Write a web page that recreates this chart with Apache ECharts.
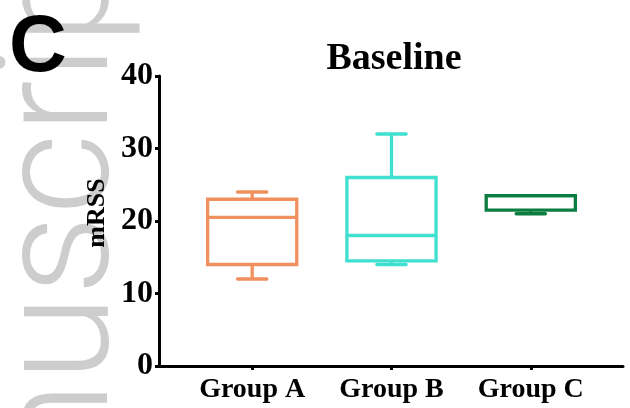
<!DOCTYPE html>
<html>
<head>
<meta charset="utf-8">
<script src="https://cdn.jsdelivr.net/npm/echarts@6/dist/echarts.min.js"></script>
<style>
  html, body { margin: 0; padding: 0; background: #fff; }
  #chart { width: 630px; height: 408px; }
</style>
</head>
<body>
<div id="chart"></div>
<script>
// Box-and-whisker summary per group (mRSS at baseline)
const groups  = ['Group A', 'Group B', 'Group C'];
const mins    = [12, 14, 21];
const q1s     = [14, 14.5, 21.5];
const medians = [20.5, 18, 23.5];
const q3s     = [23, 26, 23.5];
const maxs    = [24, 32, 23.5];
const colors  = ['#F0905E', '#40E0D0', '#0B7D40'];
const yMin = 0, yMax = 40, yStep = 10;

const serif = '"Liberation Serif", "Times New Roman", serif';

// x positions 1..n on a value axis so the axis line can extend past the groups
const boxData = groups.map((g, i) => [i + 1, mins[i], q1s[i], medians[i], q3s[i], maxs[i]]);
const groupPos = groups.map((g, i) => i + 1);

function renderBox(params, api) {
  const i = params.dataIndex;
  const x = api.value(0);
  const unit = api.size([1, 0])[0];
  const halfBox = unit * 0.32;
  const halfCap = unit * 0.105;
  const pMin = api.coord([x, api.value(1)]);
  const pQ1 = api.coord([x, api.value(2)]);
  const pMed = api.coord([x, api.value(3)]);
  const pQ3 = api.coord([x, api.value(4)]);
  const pMax = api.coord([x, api.value(5)]);
  const cx = pQ1[0];
  const stroke = { stroke: colors[i], lineWidth: 3.3, fill: null };
  const capStyle = { stroke: colors[i], lineWidth: 3.3, lineCap: 'round' };
  const children = [];
  if (pMax[1] < pQ3[1] - 0.5) {
    children.push({ type: 'line', shape: { x1: cx, y1: pMax[1], x2: cx, y2: pQ3[1] }, style: stroke });
    children.push({ type: 'line', shape: { x1: cx - halfCap, y1: pMax[1], x2: cx + halfCap, y2: pMax[1] }, style: capStyle });
  }
  if (pMin[1] > pQ1[1] + 0.5) {
    children.push({ type: 'line', shape: { x1: cx, y1: pQ1[1], x2: cx, y2: pMin[1] }, style: stroke });
    children.push({ type: 'line', shape: { x1: cx - halfCap, y1: pMin[1], x2: cx + halfCap, y2: pMin[1] }, style: capStyle });
  }
  children.push({
    type: 'rect',
    shape: { x: cx - halfBox, y: pQ3[1], width: halfBox * 2, height: pQ1[1] - pQ3[1] },
    style: stroke
  });
  children.push({ type: 'line', shape: { x1: cx - halfBox, y1: pMed[1], x2: cx + halfBox, y2: pMed[1] }, style: stroke });
  return { type: 'group', children: children };
}

const chart = echarts.init(document.getElementById('chart'), null, { renderer: 'canvas' });

chart.setOption({
  animation: false,
  backgroundColor: '#ffffff',
  title: {
    text: 'Baseline',
    left: 389,
    textAlign: 'center',
    top: 35,
    textStyle: { fontFamily: serif, fontWeight: 'bold', fontSize: 38, color: '#000' }
  },
  grid: { left: 159, right: 7, top: 76, bottom: 42 },
  xAxis: {
    type: 'value',
    min: 0.331,
    max: 3.662,
    splitLine: { show: false },
    axisLine: { show: true, lineStyle: { color: '#000', width: 3 } },
    axisTick: { show: true, customValues: groupPos, length: 4, lineStyle: { color: '#000', width: 3 } },
    axisLabel: {
      show: true,
      customValues: groupPos,
      formatter: (v) => groups[Math.round(v) - 1] || '',
      margin: 10,
      fontFamily: serif, fontWeight: 'bold', fontSize: 28, color: '#000'
    }
  },
  yAxis: {
    type: 'value',
    min: yMin, max: yMax, interval: yStep,
    name: 'mRSS',
    nameLocation: 'middle',
    nameGap: 44,
    nameTextStyle: { fontFamily: serif, fontWeight: 'bold', fontSize: 26, color: '#000', padding: [0, 0, 0, 16] },
    splitLine: { show: false },
    axisLine: { show: true, lineStyle: { color: '#000', width: 3 } },
    axisTick: { show: true, length: 4, lineStyle: { color: '#000', width: 3 } },
    axisLabel: { margin: 6, fontFamily: serif, fontWeight: 'bold', fontSize: 32, color: '#000' }
  },
  graphic: [
    {
      type: 'text',
      z: -10,
      x: 67, y: 690,
      rotation: Math.PI / 2,
      silent: true,
      style: {
        text: 'Manuscript',
        font: '300 158px Roboto, "Open Sans", sans-serif',
        fill: '#cdcdcd',
        textAlign: 'left',
        textVerticalAlign: 'middle'
      }
    },
    {
      type: 'text',
      x: 9, y: 9,
      silent: true,
      style: {
        text: 'C',
        font: 'bold 80px "Liberation Sans", Arial, sans-serif',
        fill: '#000',
        textAlign: 'left',
        textVerticalAlign: 'top'
      }
    }
  ],
  series: [{
    type: 'custom',
    renderItem: renderBox,
    encode: { x: 0, y: [1, 2, 3, 4, 5] },
    data: boxData
  }]
});
</script>
</body>
</html>
